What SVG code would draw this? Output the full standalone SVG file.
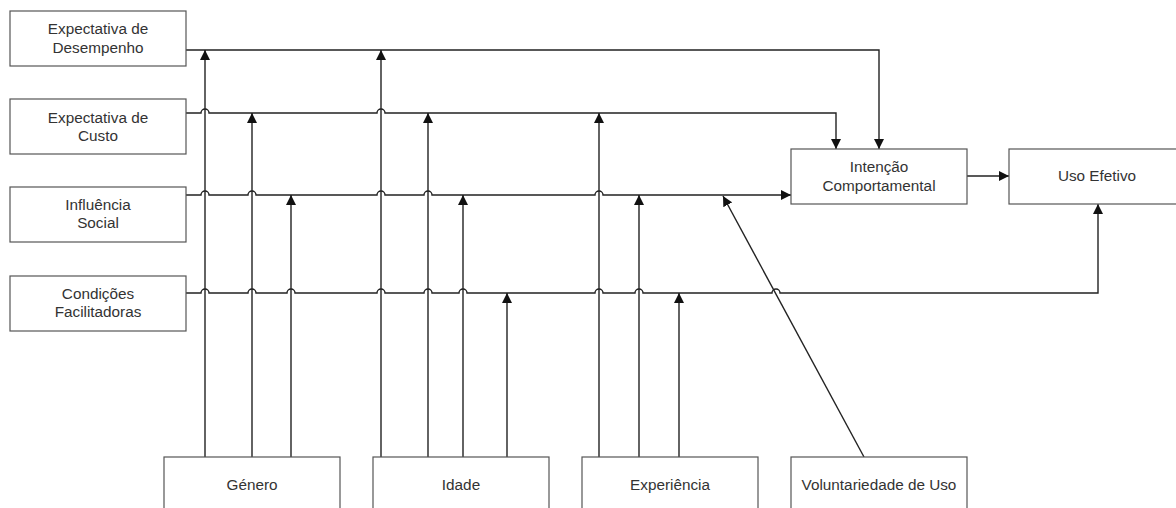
<svg xmlns="http://www.w3.org/2000/svg" width="1176" height="508" viewBox="0 0 1176 508">
  <style>
    .box { fill: #ffffff; stroke: #555555; stroke-width: 1.2; }
    .lbl { font-family: "Liberation Sans", Arial, sans-serif; font-size: 15.3px; fill: #333333; text-anchor: middle; }
    .edge { fill: none; stroke: #222222; stroke-width: 1.4; }
    .arr { marker-end: url(#head); }
  </style>
  <defs>
    <marker id="head" markerUnits="userSpaceOnUse" markerWidth="10" markerHeight="10" viewBox="0 0 10 10" refX="10" refY="5" orient="auto">
      <path d="M0,0 L10,5 L0,10 z" fill="#111111"/>
    </marker>
  </defs>
  <rect width="1176" height="508" fill="#ffffff"/>

  <!-- connectors -->
  <g id="connectors">
    <!-- Expectativa de Desempenho -> Intencao -->
    <path class="edge arr" d="M186,50 L879,50 L879,149"/>
    <!-- Expectativa de Custo -> Intencao -->
    <path class="edge arr" d="M186,113 L201,113 A4,4 0 0 1 209,113 L377,113 A4,4 0 0 1 385,113 L836,113 L836,149"/>
    <!-- Influencia Social -> Intencao -->
    <path class="edge arr" d="M186,195 L201,195 A4,4 0 0 1 209,195 L248,195 A4,4 0 0 1 256,195 L377,195 A4,4 0 0 1 385,195 L424,195 A4,4 0 0 1 432,195 L595,195 A4,4 0 0 1 603,195 L791,195"/>
    <!-- Condicoes Facilitadoras -> Uso Efetivo -->
    <path class="edge arr" d="M186,293 L201,293 A4,4 0 0 1 209,293 L248,293 A4,4 0 0 1 256,293 L287,293 A4,4 0 0 1 295,293 L377,293 A4,4 0 0 1 385,293 L424,293 A4,4 0 0 1 432,293 L459,293 A4,4 0 0 1 467,293 L595,293 A4,4 0 0 1 603,293 L635,293 A4,4 0 0 1 643,293 L772,293 A4,4 0 0 1 780,293 L1098,293 L1098,204"/>
    <!-- Intencao -> Uso Efetivo -->
    <path class="edge arr" d="M967,176 L1009,176"/>
    <!-- Genero moderators -->
    <path class="edge arr" d="M205,457 L205,50"/>
    <path class="edge arr" d="M252,457 L252,113"/>
    <path class="edge arr" d="M291,457 L291,195"/>
    <!-- Idade moderators -->
    <path class="edge arr" d="M381,457 L381,50"/>
    <path class="edge arr" d="M428,457 L428,113"/>
    <path class="edge arr" d="M463,457 L463,195"/>
    <path class="edge arr" d="M507,457 L507,293"/>
    <!-- Experiencia moderators -->
    <path class="edge arr" d="M599,457 L599,113"/>
    <path class="edge arr" d="M639,457 L639,195"/>
    <path class="edge arr" d="M679,457 L679,293"/>
    <!-- Voluntariedade de Uso moderator -->
    <path class="edge arr" d="M864,457 L723,196"/>
  </g>

  <!-- constructs -->
  <g id="expectativa-desempenho">
    <rect class="box" x="10" y="11" width="176" height="55"/>
    <text class="lbl" x="98" y="34">Expectativa de</text>
    <text class="lbl" x="98" y="53">Desempenho</text>
  </g>
  <g id="expectativa-custo">
    <rect class="box" x="10" y="99" width="176" height="55"/>
    <text class="lbl" x="98" y="123">Expectativa de</text>
    <text class="lbl" x="98" y="141">Custo</text>
  </g>
  <g id="influencia-social">
    <rect class="box" x="10" y="187" width="176" height="55"/>
    <text class="lbl" x="98" y="210">Influência</text>
    <text class="lbl" x="98" y="228">Social</text>
  </g>
  <g id="condicoes-facilitadoras">
    <rect class="box" x="10" y="276" width="176" height="55"/>
    <text class="lbl" x="98" y="299">Condições</text>
    <text class="lbl" x="98" y="317">Facilitadoras</text>
  </g>
  <g id="intencao-comportamental">
    <rect class="box" x="791" y="149" width="176" height="55"/>
    <text class="lbl" x="879" y="172">Intenção</text>
    <text class="lbl" x="879" y="191">Comportamental</text>
  </g>
  <g id="uso-efetivo">
    <rect class="box" x="1009" y="149" width="176" height="55"/>
    <text class="lbl" x="1097" y="181">Uso Efetivo</text>
  </g>

  <!-- moderators -->
  <g id="genero">
    <rect class="box" x="164" y="457" width="176" height="60"/>
    <text class="lbl" x="252" y="490">Género</text>
  </g>
  <g id="idade">
    <rect class="box" x="373" y="457" width="176" height="60"/>
    <text class="lbl" x="461" y="490">Idade</text>
  </g>
  <g id="experiencia">
    <rect class="box" x="582" y="457" width="176" height="60"/>
    <text class="lbl" x="670" y="490">Experiência</text>
  </g>
  <g id="voluntariedade">
    <rect class="box" x="791" y="457" width="176" height="60"/>
    <text class="lbl" x="879" y="490">Voluntariedade de Uso</text>
  </g>
</svg>
